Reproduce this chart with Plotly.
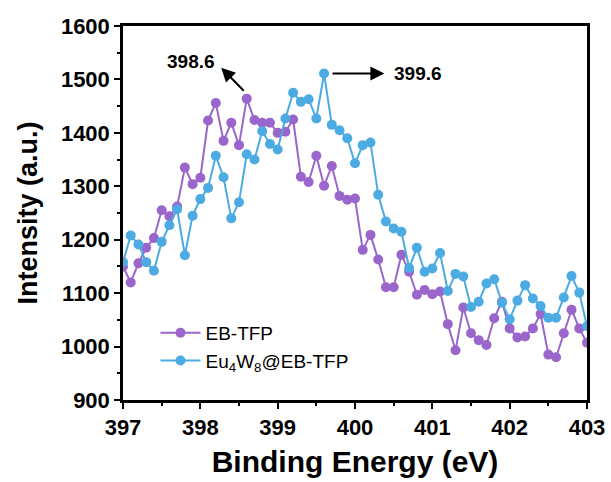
import plotly.graph_objects as go

# Binding energy grid (eV)
energy = [397.0, 397.1, 397.2, 397.3, 397.4, 397.5, 397.6, 397.7, 397.8, 397.9,
          398.0, 398.1, 398.2, 398.3, 398.4, 398.5, 398.6, 398.7, 398.8, 398.9,
          399.0, 399.1, 399.2, 399.3, 399.4, 399.5, 399.6, 399.7, 399.8, 399.9,
          400.0, 400.1, 400.2, 400.3, 400.4, 400.5, 400.6, 400.7, 400.8, 400.9,
          401.0, 401.1, 401.2, 401.3, 401.4, 401.5, 401.6, 401.7, 401.8, 401.9,
          402.0, 402.1, 402.2, 402.3, 402.4, 402.5, 402.6, 402.7, 402.8, 402.9,
          403.0]

eb_tfp = [1150, 1120, 1156, 1185, 1203, 1255, 1244, 1262, 1335, 1304,
          1316, 1423, 1456, 1385, 1419, 1377, 1464, 1424, 1419, 1419,
          1400, 1402, 1425, 1318, 1308, 1357, 1301, 1338, 1282, 1275,
          1277, 1181, 1209, 1163, 1111, 1111, 1172, 1140, 1097, 1106,
          1098, 1103, 1042, 993, 1073, 1025, 1012, 1003, 1053, 1084,
          1034, 1017, 1019, 1034, 1061, 985, 980, 1025, 1069, 1034,
          1007]

eu_eb_tfp = [1158, 1208, 1191, 1158, 1142, 1196, 1227, 1257, 1171, 1245,
             1276, 1297, 1357, 1317, 1240, 1270, 1360, 1350, 1403, 1379,
             1369, 1427, 1475, 1458, 1463, 1427, 1511, 1415, 1405, 1390,
             1343, 1377, 1382, 1284, 1234, 1221, 1215, 1147, 1185, 1140,
             1146, 1175, 1104, 1136, 1131, 1074, 1084, 1118, 1126, 1082,
             1051, 1086, 1115, 1090, 1076, 1054, 1054, 1092, 1132, 1101,
             1038]

series_names = ["EB-TFP", "Eu<sub>4</sub>W<sub>8</sub>@EB-TFP"]
series_colors = ["#9A66CB", "#4BABE2"]

x_ticks = [397, 398, 399, 400, 401, 402, 403]
y_ticks = [900, 1000, 1100, 1200, 1300, 1400, 1500, 1600]

FONT = "Liberation Sans, Arial, sans-serif"

fig = go.Figure()
for name, vals, col in zip(series_names, [eb_tfp, eu_eb_tfp], series_colors):
    fig.add_trace(go.Scatter(
        x=energy, y=vals, name=name, mode="lines+markers",
        line=dict(color=col, width=2),
        marker=dict(color=col, size=10),
    ))

# Peak positions labelled with arrows
i_p = eb_tfp.index(max(eb_tfp))
px, py = energy[i_p], eb_tfp[i_p]
i_b = eu_eb_tfp.index(max(eu_eb_tfp))
bx, by = energy[i_b], eu_eb_tfp[i_b]

arrow = dict(showarrow=True, arrowhead=2, arrowsize=1.4, arrowwidth=2,
             arrowcolor="black", xref="x", yref="y", axref="x", ayref="y", text="")
fig.add_annotation(x=px - 0.33, y=py + 58, ax=px - 0.02, ay=py + 12, **arrow)
fig.add_annotation(x=bx + 0.78, y=by, ax=bx + 0.09, ay=by, **arrow)

lab = dict(showarrow=False, xref="x", yref="y",
           font=dict(family=FONT, size=19, color="black", weight="bold"))
fig.add_annotation(x=px - 0.72, y=py + 69, text=f"{px:.1f}", **lab)
fig.add_annotation(x=bx + 1.22, y=by, text=f"{bx:.1f}", **lab)

axis_common = dict(
    showline=True, linecolor="black", linewidth=2.5, mirror=True,
    ticks="outside", ticklen=6, tickwidth=2, tickcolor="black",
    showgrid=False, zeroline=False, automargin=False,
    tickfont=dict(family=FONT, size=22, color="black", weight="bold"),
)

fig.update_xaxes(
    range=[397, 403], tickvals=x_ticks,
    minor=dict(dtick=0.5, ticks="outside", ticklen=3, tickwidth=2, tickcolor="black"),
    title=dict(text="Binding Energy (eV)", standoff=12,
               font=dict(family=FONT, size=30, color="black", weight="bold")),
    **axis_common,
)
fig.update_yaxes(
    range=[900, 1600], tickvals=y_ticks,
    minor=dict(dtick=50, ticks="outside", ticklen=3, tickwidth=2, tickcolor="black"),
    title=dict(text="Intensity (a.u.)", standoff=16,
               font=dict(family=FONT, size=27, color="black", weight="bold")),
    **axis_common,
)

fig.update_layout(
    width=611, height=482,
    margin=dict(l=123, r=24, t=26, b=82),
    plot_bgcolor="white", paper_bgcolor="white",
    legend=dict(x=0.07, y=0.23, xanchor="left", yanchor="top",
                bgcolor="rgba(0,0,0,0)", tracegroupgap=0, itemwidth=40,
                font=dict(family=FONT, size=19, color="black")),
)

fig.write_html("out.html")
